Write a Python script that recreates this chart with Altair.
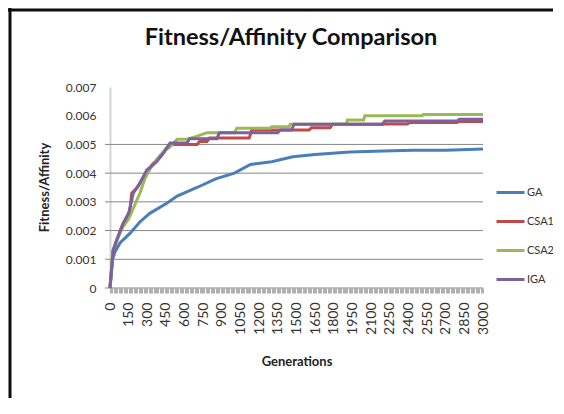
import altair as alt
import pandas as pd

# ---- data ----
series_names = ["GA", "CSA1", "CSA2", "IGA"]
series_colors = ["#4A7EBB", "#BE4B48", "#98B954", "#7D60A0"]

ga_gen = [0, 20, 40, 80, 160, 240, 320, 460, 540, 700, 850, 1000, 1130, 1300, 1470, 1650, 1930, 2200, 2440, 2700, 3000]
ga_val = [0, 0.0010, 0.00125, 0.00157, 0.0019, 0.0023, 0.0026, 0.00296, 0.0032, 0.0035, 0.0038, 0.0040, 0.0043,
          0.0044, 0.00457, 0.00465, 0.00474, 0.00477, 0.0048, 0.0048, 0.00484]

csa1_gen = [0, 24, 50, 100, 140, 160, 175, 220, 290, 340, 410, 460, 500, 700, 720, 780, 800, 1120, 1140, 1600, 1620,
            1770, 1790, 2190, 2210, 2390, 2410, 2790, 2810, 3000]
csa1_val = [0, 0.00125, 0.0016, 0.0022, 0.0025, 0.0027, 0.0033, 0.0035, 0.0040, 0.0043, 0.0046, 0.0049, 0.0050,
            0.0050, 0.0051, 0.0051, 0.00522, 0.00522, 0.0055, 0.0055, 0.00558, 0.00558, 0.0057, 0.0057, 0.00571,
            0.00571, 0.00576, 0.00576, 0.0058, 0.0058]

csa2_gen = [0, 22, 50, 100, 150, 200, 240, 280, 330, 380, 440, 480, 540, 620, 690, 780, 1000, 1020, 1290, 1300, 1440,
            1450, 1900, 1910, 2040, 2050, 2510, 2520, 3000]
csa2_val = [0, 0.0013, 0.0016, 0.0021, 0.0024, 0.0029, 0.0033, 0.0038, 0.0042, 0.0045, 0.0048, 0.0049, 0.00518,
            0.00518, 0.00527, 0.00541, 0.00541, 0.00556, 0.00556, 0.00562, 0.00562, 0.0057, 0.0057, 0.00585,
            0.00585, 0.0060, 0.0060, 0.00604, 0.00604]

iga_gen = [0, 26, 53, 107, 150, 187, 241, 295, 375, 430, 483, 620, 640, 860, 880, 1350, 1370, 1460, 1480, 2190, 2210,
           2790, 2810, 3000]
iga_val = [0, 0.00132, 0.00167, 0.00226, 0.0026, 0.0033, 0.00366, 0.0041, 0.0044, 0.0047, 0.00505, 0.00505, 0.0052,
           0.0052, 0.00541, 0.00541, 0.0055, 0.0055, 0.0057, 0.0057, 0.00582, 0.00582, 0.00588, 0.00588]

y_ticks = [0, 0.001, 0.002, 0.003, 0.004, 0.005, 0.006, 0.007]
grid_values = [0, 0.001, 0.002, 0.003, 0.004, 0.005]
x_tick_values = list(range(0, 3001, 10))

title_text = "Fitness/Affinity Comparison"

# ---- build table ----
rows = []
for name, gens, vals in [("GA", ga_gen, ga_val), ("CSA1", csa1_gen, csa1_val),
                         ("CSA2", csa2_gen, csa2_val), ("IGA", iga_gen, iga_val)]:
    for i, (g, v) in enumerate(zip(gens, vals)):
        rows.append({"Generations": g, "value": v, "series": name, "idx": i})
df = pd.DataFrame(rows)

W, H = 373, 201
FONT = "Lato"

x_scale = alt.Scale(domain=[0, 3000], nice=False, zero=True)
y_scale = alt.Scale(domain=[0, 0.007], nice=False)

y_axis = alt.Axis(values=y_ticks, format=".3f", labelExpr="datum.value === 0 ? '0' : datum.label",
                  ticks=False, labelPadding=14, domainColor="#d4d4d4", domainWidth=2, grid=False,
                  labelFont=FONT, labelFontSize=12, labelColor="#333333",
                  title="Fitness/Affinity", titleFont=FONT, titleFontSize=13, titleFontWeight="bold",
                  titleColor="#222222", titleAngle=270, titleX=-66, titleY=100,
                  titleAlign="center", titleBaseline="middle")

x_axis = alt.Axis(values=x_tick_values, format="d", labelAngle=270, labelAlign="right",
                  labelBaseline="middle", labelPadding=9, tickSize=5, tickColor="#b0b0b0",
                  tickWidth=1, domain=False, grid=False, labelOverlap=False, labelFlush=False,
                  labelBound=False,
                  labelExpr="datum.value % 150 === 0 ? datum.label : ''",
                  labelFont=FONT, labelFontSize=14, labelColor="#333333",
                  title="Generations", titleFont=FONT, titleFontSize=13, titleFontWeight="bold",
                  titleColor="#222222", titleX=W / 2, titleY=73, titleAlign="center",
                  titleBaseline="middle")

grid = alt.Chart(pd.DataFrame({"v": grid_values})).mark_rule(color="#868686", strokeWidth=1).encode(
    y=alt.Y("v:Q", scale=y_scale, axis=y_axis),
    x=alt.value(-5),
    x2=alt.value(W),
)

lines = alt.Chart(df).mark_line(strokeWidth=3, interpolate="linear").encode(
    x=alt.X("Generations:Q", scale=x_scale, axis=x_axis),
    y=alt.Y("value:Q", scale=y_scale, axis=y_axis),
    color=alt.Color("series:N", scale=alt.Scale(domain=series_names, range=series_colors), sort=series_names,
                    legend=alt.Legend(title=None, orient="none", legendX=385, legendY=90, symbolType="stroke",
                                      symbolSize=784, symbolStrokeWidth=3, rowPadding=7, labelFont=FONT,
                                      labelFontSize=11, labelColor="#333333", labelOffset=1)),
    order=alt.Order("idx:Q"),
)

title = alt.Chart(pd.DataFrame({"t": [title_text]})).mark_text(
    font=FONT, fontSize=23.5, fontWeight="bold", color="#111111", align="center", baseline="middle"
).encode(text="t:N", x=alt.value(181), y=alt.value(-49))

frame_left = alt.Chart(pd.DataFrame({"a": [0]})).mark_rule(color="#0c0c0c", strokeWidth=3).encode(
    x=alt.value(-100), y=alt.value(-79), y2=alt.value(H + 110))
frame_top = alt.Chart(pd.DataFrame({"a": [0]})).mark_rule(color="#0c0c0c", strokeWidth=3).encode(
    x=alt.value(-102), x2=alt.value(W + 70), y=alt.value(-77))

chart = alt.layer(frame_left, frame_top, grid, lines, title).properties(
    width=W, height=H,
    autosize=alt.AutoSizeParams(type="none"),
    padding={"left": 102, "top": 79, "right": 70, "bottom": 110},
).configure_view(stroke=None)

chart.save("out.html", embed_options={"renderer": "svg", "actions": False})
